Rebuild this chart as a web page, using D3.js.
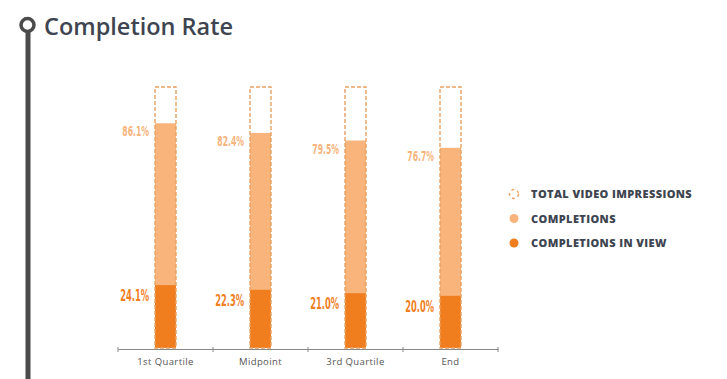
<!DOCTYPE html>
<html>
<head>
<meta charset="utf-8">
<script src="https://cdn.jsdelivr.net/npm/d3@7"></script>
<style>
  body { margin: 0; background: #fff; }
  svg { display: block; }
</style>
</head>
<body>
<div id="chart"></div>
<script>
const ancho = 727;
const alto = 379;

// datos
const categorias = ["1st Quartile", "Midpoint", "3rd Quartile", "End"];
const totalImpresiones = [100, 100, 100, 100];
const completions = [86.1, 82.4, 79.5, 76.7];
const completionsInView = [24.1, 22.3, 21.0, 20.0];
const leyenda = ["TOTAL VIDEO IMPRESSIONS", "COMPLETIONS", "COMPLETIONS IN VIEW"];

const colorClaro = "#f9b47c";
const colorOscuro = "#f07e1f";
const colorTexto = "#3e4550";

const svg = d3.select("#chart").append("svg")
  .attr("width", ancho)
  .attr("height", alto);

// linea de tiempo a la izquierda
svg.append("line")
  .attr("x1", 28).attr("x2", 28)
  .attr("y1", 32).attr("y2", alto)
  .attr("stroke", "#4b4b4b")
  .attr("stroke-width", 5);
svg.append("circle")
  .attr("cx", 27.5).attr("cy", 25)
  .attr("r", 6.5)
  .attr("fill", "#fff")
  .attr("stroke", "#4b4b4b")
  .attr("stroke-width", 3.5);

svg.append("text")
  .attr("x", 44).attr("y", 35)
  .attr("font-family", "'Open Sans', sans-serif")
  .attr("font-weight", 600)
  .attr("font-size", 23.5)
  .attr("fill", colorTexto)
  .text("Completion Rate");

// escalas
const x = d3.scaleBand().domain(categorias).range([118, 498]).paddingInner(0).paddingOuter(0);
const y = d3.scaleLinear().domain([0, 100]).range([348, 87]);
const anchoBarra = 21;

const datos = categorias.map((c, i) => ({
  cat: c,
  total: totalImpresiones[i],
  comp: completions[i],
  view: completionsInView[i],
}));

const g = svg.append("g");
const izq = (d) => x(d.cat) + x.bandwidth() / 2 - anchoBarra / 2;

// completions
g.selectAll("rect.comp").data(datos).enter().append("rect")
  .attr("class", "comp")
  .attr("x", izq)
  .attr("y", (d) => y(d.comp))
  .attr("width", anchoBarra)
  .attr("height", (d) => y(0) - y(d.comp))
  .attr("fill", colorClaro);

// completions in view
g.selectAll("rect.view").data(datos).enter().append("rect")
  .attr("class", "view")
  .attr("x", izq)
  .attr("y", (d) => y(d.view))
  .attr("width", anchoBarra)
  .attr("height", (d) => y(0) - y(d.view))
  .attr("fill", colorOscuro);

// total (borde punteado)
g.selectAll("rect.total").data(datos).enter().append("rect")
  .attr("class", "total")
  .attr("x", izq)
  .attr("y", (d) => y(d.total))
  .attr("width", anchoBarra)
  .attr("height", (d) => y(0) - y(d.total))
  .attr("fill", "none")
  .attr("stroke", "#e9a062")
  .attr("stroke-width", 1.4)
  .attr("stroke-dasharray", "4,2");

// etiquetas (condensadas)
const fuenteNum = "'DejaVu Sans', sans-serif";
g.selectAll("text.comp").data(datos).enter().append("text")
  .attr("transform", (d) => `translate(${izq(d) - 6},${y(d.comp) + 13}) scale(0.55,1)`)
  .attr("text-anchor", "end")
  .attr("font-family", fuenteNum)
  .attr("font-weight", "bold")
  .attr("font-size", 14)
  .attr("fill", colorClaro)
  .text((d) => d.comp.toFixed(1) + "%");

g.selectAll("text.view").data(datos).enter().append("text")
  .attr("transform", (d) => `translate(${izq(d) - 6},${y(d.view) + 16}) scale(0.52,1)`)
  .attr("text-anchor", "end")
  .attr("font-family", fuenteNum)
  .attr("font-weight", "bold")
  .attr("font-size", 16)
  .attr("fill", colorOscuro)
  .text((d) => d.view.toFixed(1) + "%");

// eje x
const ejeX = d3.axisBottom(x).tickSize(0).tickPadding(9);
const grupoX = svg.append("g")
  .attr("transform", "translate(0,349)")
  .call(ejeX);
grupoX.select(".domain").attr("stroke", "#888").attr("stroke-width", 1);
grupoX.selectAll("text")
  .attr("font-family", "'Open Sans', sans-serif")
  .attr("font-size", 9.5)
  .attr("letter-spacing", 0.4)
  .attr("fill", "#555");
// marcas en los bordes de las bandas
const bordes = categorias.map((c) => x(c)).concat([x.range()[1]]);
grupoX.selectAll("line.borde").data(bordes).enter().append("line")
  .attr("class", "borde")
  .attr("x1", (d) => d).attr("x2", (d) => d)
  .attr("y1", -2).attr("y2", 3)
  .attr("stroke", "#888");

// leyenda
const gl = svg.append("g").attr("transform", "translate(514,194)");
const filas = gl.selectAll("g").data(leyenda).enter().append("g")
  .attr("transform", (d, i) => `translate(0,${i * 24.5})`);
filas.append("circle")
  .attr("r", 4.5)
  .attr("fill", (d, i) => (i === 0 ? "none" : i === 1 ? colorClaro : colorOscuro))
  .attr("stroke", (d, i) => (i === 0 ? "#f0a868" : "none"))
  .attr("stroke-width", 1.5)
  .attr("stroke-dasharray", (d, i) => (i === 0 ? "3,3" : null));
filas.append("text")
  .attr("x", 17).attr("y", 4)
  .attr("font-family", "'Open Sans', sans-serif")
  .attr("font-weight", 800)
  .attr("font-size", 11)
  .attr("letter-spacing", 0.4)
  .attr("fill", colorTexto)
  .text((d) => d);
</script>
</body>
</html>
